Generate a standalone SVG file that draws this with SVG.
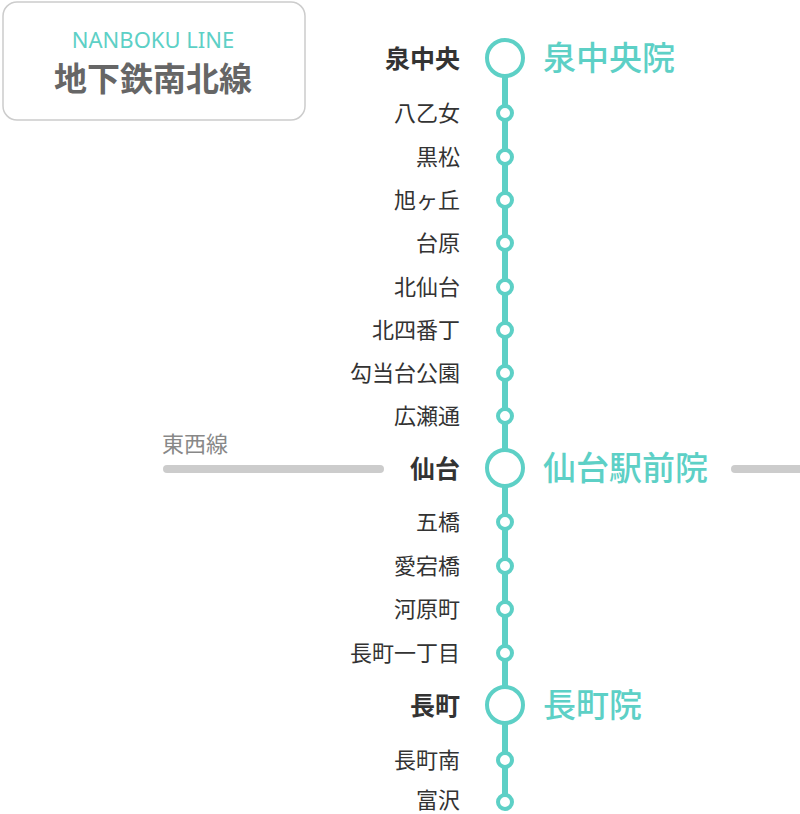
<svg xmlns="http://www.w3.org/2000/svg" width="800" height="814" viewBox="0 0 800 814">
<style>
.s{font-family:"Noto Sans CJK JP","Noto Sans",sans-serif;font-size:22px;fill:#333;text-anchor:end}
.b{font-weight:bold;font-size:25px}
.r{font-family:"Noto Sans CJK JP","Noto Sans",sans-serif;font-size:33px;font-weight:500;fill:#5dd0c6}
.sm{fill:#fff;stroke:#5dd0c6;stroke-width:4}
.bg{fill:#fff;stroke:#5dd0c6;stroke-width:4}
</style>
<rect width="800" height="814" fill="#fff"/>
<g id="title">
<rect x="3" y="2" width="302" height="118" rx="14" fill="#fff" stroke="#ccc" stroke-width="1.5"/>
<text x="153" y="48" text-anchor="middle" font-family="Noto Sans,sans-serif" font-size="22" fill="#5dd0c6">NANBOKU LINE</text>
<text x="153" y="91" text-anchor="middle" font-family="Noto Sans CJK JP,sans-serif" font-size="33" font-weight="bold" fill="#666">地下鉄南北線</text>
</g>
<g id="connectors">
<line x1="505" y1="58" x2="505" y2="802" stroke="#5dd0c6" stroke-width="6"/>
<line x1="167" y1="469" x2="380" y2="469" stroke="#ccc" stroke-width="8" stroke-linecap="round"/>
<line x1="735" y1="469" x2="805" y2="469" stroke="#ccc" stroke-width="8" stroke-linecap="round"/>
<text x="162" y="452" font-family="Noto Sans CJK JP,sans-serif" font-size="22" fill="#888">東西線</text>
</g>
<g id="n1"><circle class="bg" cx="505" cy="58" r="18"/><text class="s b" x="460" y="68">泉中央</text><text class="r" x="543" y="70">泉中央院</text></g>
<g id="n2"><circle class="sm" cx="505" cy="113" r="7"/><text class="s" x="460" y="121">八乙女</text></g>
<g id="n3"><circle class="sm" cx="505" cy="157" r="7"/><text class="s" x="460" y="165">黒松</text></g>
<g id="n4"><circle class="sm" cx="505" cy="200" r="7"/><text class="s" x="460" y="208">旭ヶ丘</text></g>
<g id="n5"><circle class="sm" cx="505" cy="243" r="7"/><text class="s" x="460" y="251">台原</text></g>
<g id="n6"><circle class="sm" cx="505" cy="287" r="7"/><text class="s" x="460" y="295">北仙台</text></g>
<g id="n7"><circle class="sm" cx="505" cy="330" r="7"/><text class="s" x="460" y="338">北四番丁</text></g>
<g id="n8"><circle class="sm" cx="505" cy="373" r="7"/><text class="s" x="460" y="381">勾当台公園</text></g>
<g id="n9"><circle class="sm" cx="505" cy="416" r="7"/><text class="s" x="460" y="424">広瀬通</text></g>
<g id="n10"><circle class="bg" cx="505" cy="468" r="18"/><text class="s b" x="460" y="478">仙台</text><text class="r" x="543" y="480">仙台駅前院</text></g>
<g id="n11"><circle class="sm" cx="505" cy="522" r="7"/><text class="s" x="460" y="530">五橋</text></g>
<g id="n12"><circle class="sm" cx="505" cy="566" r="7"/><text class="s" x="460" y="574">愛宕橋</text></g>
<g id="n13"><circle class="sm" cx="505" cy="609" r="7"/><text class="s" x="460" y="617">河原町</text></g>
<g id="n14"><circle class="sm" cx="505" cy="653" r="7"/><text class="s" x="460" y="661">長町一丁目</text></g>
<g id="n15"><circle class="bg" cx="505" cy="705" r="18"/><text class="s b" x="460" y="715">長町</text><text class="r" x="543" y="717">長町院</text></g>
<g id="n16"><circle class="sm" cx="505" cy="760" r="7"/><text class="s" x="460" y="768">長町南</text></g>
<g id="n17"><circle class="sm" cx="505" cy="802" r="7"/><text class="s" x="460" y="808">富沢</text></g>
</svg>
